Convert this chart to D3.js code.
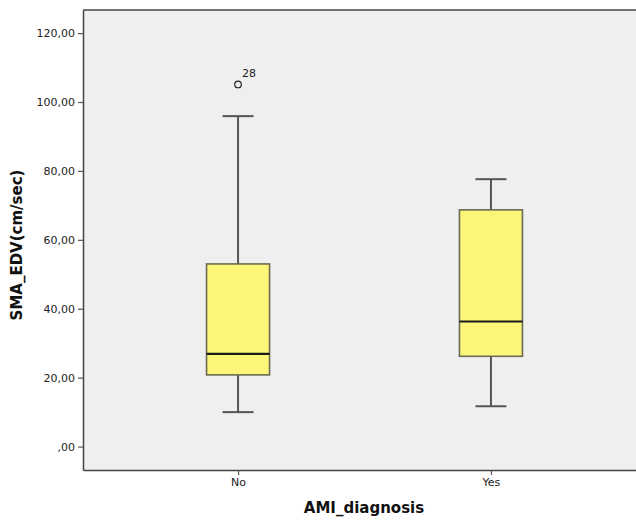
<!DOCTYPE html>
<html><head><meta charset="utf-8">
<script src="https://cdn.jsdelivr.net/npm/d3@7"></script>
<style>body{margin:0;background:#fff}svg{display:block}</style>
</head><body>
<svg id="c" width="636" height="521"></svg>
<script>
const categories = ["No", "Yes"];
const whiskerLow = [10.0, 11.7];
const q1 = [20.8, 26.2];
const median = [26.9, 36.3];
const q3 = [53.0, 68.7];
const whiskerHigh = [95.9, 77.6];
const outlierCat = ["No"];
const outlierVal = [105.1];
const outlierLabel = ["28"];
const yTicks = [0, 20, 40, 60, 80, 100, 120];
const yTickLabels = [",00", "20,00", "40,00", "60,00", "80,00", "100,00", "120,00"];

const svg = d3.select("#c");
const L = 83, T = 10, R = 646, B = 470;
const y = d3.scaleLinear().domain([-6.8, 126.7]).range([B, T]);
const x = d3.scalePoint().domain(categories).range([L, R]).padding(0.613);
const boxW = 63, capW = 31;
const font = "'DejaVu Sans', sans-serif";

svg.append("rect").attr("x", L).attr("y", T).attr("width", R - L).attr("height", B - T).attr("fill", "#efefef");

// boxes
const g = svg.append("g");
categories.forEach((c, i) => {
  const cx = x(c);
  g.append("line").attr("x1", cx).attr("x2", cx).attr("y1", y(q3[i])).attr("y2", y(whiskerHigh[i]))
    .attr("stroke", "#555").attr("stroke-width", 2);
  g.append("line").attr("x1", cx).attr("x2", cx).attr("y1", y(q1[i])).attr("y2", y(whiskerLow[i]))
    .attr("stroke", "#555").attr("stroke-width", 2);
  g.append("line").attr("x1", cx - capW / 2).attr("x2", cx + capW / 2).attr("y1", y(whiskerHigh[i])).attr("y2", y(whiskerHigh[i]))
    .attr("stroke", "#555").attr("stroke-width", 2);
  g.append("line").attr("x1", cx - capW / 2).attr("x2", cx + capW / 2).attr("y1", y(whiskerLow[i])).attr("y2", y(whiskerLow[i]))
    .attr("stroke", "#555").attr("stroke-width", 2);
  g.append("rect").attr("x", cx - boxW / 2).attr("y", y(q3[i])).attr("width", boxW).attr("height", y(q1[i]) - y(q3[i]))
    .attr("fill", "#fcf678").attr("stroke", "#6b6b55").attr("stroke-width", 1.6);
  g.append("line").attr("x1", cx - boxW / 2).attr("x2", cx + boxW / 2).attr("y1", y(median[i])).attr("y2", y(median[i]))
    .attr("stroke", "#1a1a1a").attr("stroke-width", 2.2);
});

outlierVal.forEach((v, i) => {
  const cx = x(outlierCat[i]);
  g.append("circle").attr("cx", cx).attr("cy", y(v)).attr("r", 3.3).attr("fill", "none").attr("stroke", "#222").attr("stroke-width", 1.2);
  g.append("text").attr("x", cx + 4).attr("y", y(v) - 7).attr("font-family", font).attr("font-size", 11)
    .attr("fill", "#222").text(outlierLabel[i]);
});

// frame
svg.append("line").attr("x1", L).attr("x2", R).attr("y1", T).attr("y2", T).attr("stroke", "#444").attr("stroke-width", 1.5);

// y axis
const yAxis = d3.axisLeft(y).tickValues(yTicks).tickSize(5).tickSizeOuter(0).tickPadding(3)
  .tickFormat((d, i) => yTickLabels[i]);
const ya = svg.append("g").attr("transform", `translate(${L},0)`).call(yAxis);
ya.select(".domain").attr("stroke", "#444").attr("stroke-width", 1.5);
ya.selectAll(".tick line").attr("stroke", "#555").attr("stroke-width", 1.2);
ya.selectAll(".tick text").attr("font-family", font).attr("font-size", 11).attr("fill", "#222");

// x axis
const xAxis = d3.axisBottom(x).tickSize(5).tickSizeOuter(0).tickPadding(3);
const xa = svg.append("g").attr("transform", `translate(0,${B})`).call(xAxis);
xa.select(".domain").attr("stroke", "#444").attr("stroke-width", 1.5);
xa.selectAll(".tick line").attr("stroke", "#555").attr("stroke-width", 1.2);
xa.selectAll(".tick text").attr("font-family", font).attr("font-size", 11).attr("fill", "#222");

// titles
svg.append("text").attr("x", 364).attr("y", 513).attr("text-anchor", "middle")
  .attr("font-family", font).attr("font-size", 15).attr("font-weight", "bold").attr("fill", "#111").text("AMI_diagnosis");
svg.append("text").attr("transform", "translate(22,245) rotate(-90)").attr("text-anchor", "middle")
  .attr("font-family", font).attr("font-size", 15).attr("font-weight", "bold").attr("fill", "#111").text("SMA_EDV(cm/sec)");
</script>
</body></html>
